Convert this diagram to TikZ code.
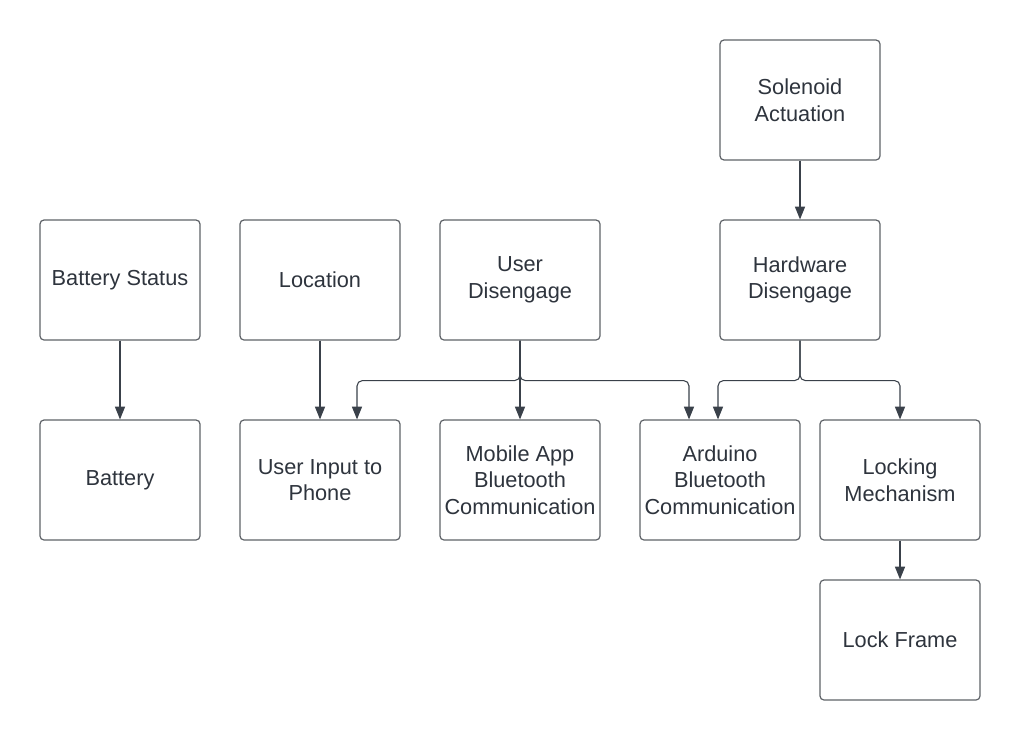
\documentclass[tikz,border=0pt]{standalone}
\usepackage{fontspec}
\setmainfont{Liberation Sans}
\usetikzlibrary{arrows.meta,calc}
\definecolor{boxline}{HTML}{5F6368}
\definecolor{conn}{HTML}{3A414A}
\definecolor{txt}{HTML}{2E343D}
\tikzset{
  blk/.style={draw=boxline, line width=0.9pt, rounded corners=3pt, minimum width=120pt, minimum height=90pt, align=center, text=txt, font=\fontsize{16.3}{20}\selectfont, inner sep=0pt},
  conn/.style={draw=conn, line width=0.8pt, rounded corners=4pt, -{Triangle[length=9.5pt,width=7.5pt]}}
}
\begin{document}
\begin{tikzpicture}[x=0.75pt,y=-0.75pt]
\useasboundingbox[fill=white] (0,0) rectangle (1020,740);
\node[blk] (bs) at (120,280) {Battery Status};
\node[blk] (loc) at (320,280) {Location};
\node[blk] (ud) at (520,280) {User\\Disengage};
\node[blk] (hd) at (800,280) {Hardware\\Disengage};
\node[blk] (sa) at (800,100) {Solenoid\\Actuation};
\node[blk] (bat) at (120,480) {Battery};
\node[blk] (ui) at (320,480) {User Input to\\Phone};
\node[blk] (mab) at (520,480) {Mobile App\\Bluetooth\\Communication};
\node[blk] (abc) at (720,480) {Arduino\\Bluetooth\\Communication};
\node[blk] (lm) at (900,480) {Locking\\Mechanism};
\node[blk] (lf) at (900,640) {Lock Frame};
\draw[conn] (bs.south) -- (bat.north);
\draw[conn] (loc.south) -- (ui.north);
\draw[conn] (sa.south) -- (hd.north);
\draw[conn] (lm.south) -- (lf.north);
\draw[conn] (ud.south) -- (mab.north);
\draw[conn] (ud.south) -- ++(0,40) -| ($(ui.north)+(37,0)$);
\draw[conn] (ud.south) -- ++(0,40) -| ($(abc.north)+(-31,0)$);
\draw[conn] (hd.south) -- ++(0,40) -| ($(abc.north)+(-2,0)$);
\draw[conn] (hd.south) -- ++(0,40) -| (lm.north);
\end{tikzpicture}
\end{document}
